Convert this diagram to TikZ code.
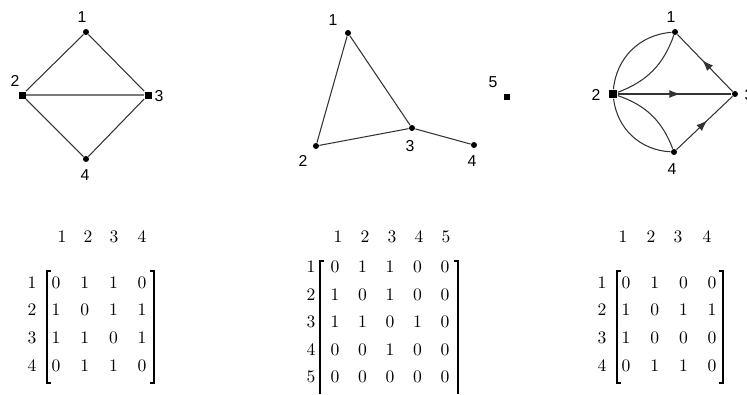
\documentclass[tikz,border=0pt]{standalone}
\usepackage{fontspec}
\usetikzlibrary{decorations.markings,arrows.meta}
\newfontfamily\lblfont{Liberation Sans}

\begin{document}
\begin{tikzpicture}[x=0.2mm, y=-0.2mm, line width=0.6pt,
  vtx/.style={circle, fill=black, inner sep=0pt, minimum size=1.2mm},
  bigvtx/.style={rectangle, fill=black, inner sep=0pt, minimum size=1.4mm},
  lbl/.style={font=\lblfont\fontsize{9}{10}\selectfont, inner sep=0pt},
  ent/.style={font=\fontsize{10}{12}\selectfont, inner sep=0pt},
  edge/.style={draw=black!80},
  midarrow/.style={postaction={decorate}, decoration={markings,
    mark=at position 0.55 with {\arrow{Latex[length=2.2mm,width=1.6mm]}}}}]
\useasboundingbox (0,0) rectangle (747,394);
% undirected graph
\node[vtx]    (a1) at (86,32)  {};
\node[bigvtx] (a2) at (22,95)  {};
\node[bigvtx] (a3) at (148,95) {};
\node[vtx]    (a4) at (86,159) {};
\node[lbl] (la1) at (82,17)  {1};
\node[lbl] (la2) at (15,81)  {2};
\node[lbl] (la3) at (159,96) {3};
\node[lbl] (la4) at (85,175) {4};
\draw[edge] (a1) -- (a2) (a1) -- (a3) (a2) -- (a3) (a2) -- (a4) (a3) -- (a4);
% graph with isolated vertex
\node[vtx]    (b1) at (348,33)  {};
\node[vtx]    (b2) at (316,146) {};
\node[vtx]    (b3) at (412,128) {};
\node[vtx]    (b4) at (474,145) {};
\node[bigvtx, minimum size=1.1mm] (b5) at (507,97) {};
\node[lbl] (lb1) at (333,20)  {1};
\node[lbl] (lb2) at (303,161) {2};
\node[lbl] (lb3) at (410,146) {3};
\node[lbl] (lb4) at (472,161) {4};
\node[lbl] (lb5) at (493,82)  {5};
\draw[edge] (b1) -- (b2) (b1) -- (b3) (b2) -- (b3) (b3) -- (b4);
% directed multigraph
\node[vtx]    (c1) at (675,32)  {};
\node[bigvtx, minimum size=1.7mm] (c2) at (613,94) {};
\node[vtx]    (c3) at (735,94)  {};
\node[vtx]    (c4) at (674,152) {};
\node[lbl] (lc1) at (671,17)  {1};
\node[lbl] (lc2) at (596,95)  {2};
\node[lbl] (lc3) at (749,95)  {3};
\node[lbl] (lc4) at (672,169) {4};
\draw[edge] (c2) to[bend left=40] (c1);
\draw[edge] (c2) to[bend right=25] (c1);
\draw[edge] (c2) to[bend right=40] (c4);
\draw[edge] (c2) to[bend left=25] (c4);
\draw[edge, midarrow] (c3) -- (c1);
\draw[edge, midarrow] (c2) -- (c3);
\draw[edge, midarrow] (c4) -- (c3);
% adjacency matrix 1
\foreach \c/\x in {1/62, 2/88, 3/114, 4/142}
  \node[ent] (m1h\c) at (\x,237) {\c};
\foreach \r/\y/\row in {1/283/{0,1,1,0}, 2/310/{1,0,1,1}, 3/338/{1,1,0,1}, 4/366/{0,1,1,0}}{
  \node[ent] (m1r\r) at (32,\y) {\r};
  \foreach \v [count=\c] in \row
    \node[ent] (m1-\r-\c) at (56+28.7*\c-28.7,\y) {\v};
}
\draw (51,271) -- (47,271) -- (47,383) -- (51,383);
\draw (150,271) -- (154,271) -- (154,383) -- (150,383);
% adjacency matrix 2
\foreach \c/\x in {1/338, 2/365, 3/392, 4/419, 5/446}
  \node[ent] (m2h\c) at (\x,237) {\c};
\foreach \r/\y/\row in {1/267/{0,1,1,0,0}, 2/294.5/{1,0,1,0,0}, 3/322/{1,1,0,1,0}, 4/349.5/{0,0,1,0,0}, 5/377/{0,0,0,0,0}}{
  \node[ent] (m2r\r) at (311,\y) {\r};
  \foreach \v [count=\c] in \row
    \node[ent] (m2-\r-\c) at (335+27.5*\c-27.5,\y) {\v};
}
\draw (324,261) -- (320,261) -- (320,394);
\draw (454,261) -- (458,261) -- (458,394);
% adjacency matrix 3
\foreach \c/\x in {1/623, 2/651, 3/678, 4/707}
  \node[ent] (m3h\c) at (\x,237) {\c};
\foreach \r/\y/\row in {1/283/{0,1,0,0}, 2/310/{1,0,1,1}, 3/338/{1,0,0,0}, 4/366/{0,1,1,0}}{
  \node[ent] (m3r\r) at (602,\y) {\r};
  \foreach \v [count=\c] in \row
    \node[ent] (m3-\r-\c) at (626+28.7*\c-28.7,\y) {\v};
}
\draw (621,271) -- (617,271) -- (617,383) -- (621,383);
\draw (719,271) -- (723,271) -- (723,383) -- (719,383);
\end{tikzpicture}
\end{document}
